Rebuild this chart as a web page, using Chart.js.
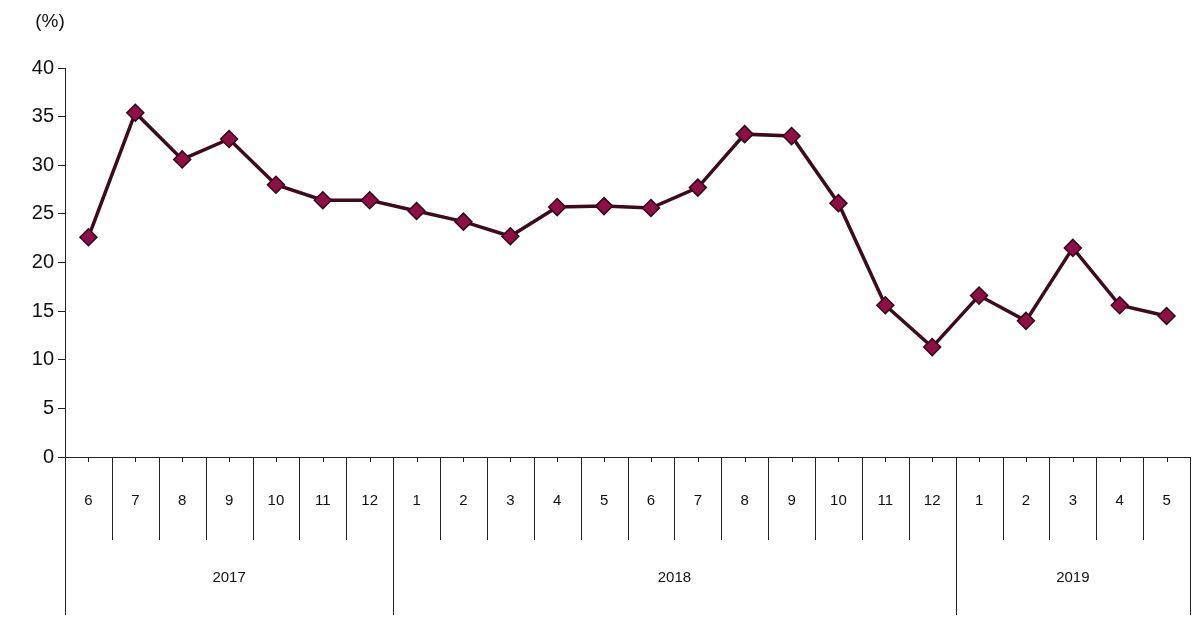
<!DOCTYPE html>
<html>
<head>
<meta charset="utf-8">
<script src="https://cdn.jsdelivr.net/npm/chart.js@4.4.1/dist/chart.umd.min.js"></script>
<style>
  html, body { margin: 0; padding: 0; background: #fff; }
  #wrap { width: 1200px; height: 626px; position: relative; }
</style>
</head>
<body>
<div id="wrap"><canvas id="chart"></canvas></div>
<script>
// months shown on the axis, grouped by year
const months = ['6', '7', '8', '9', '10', '11', '12',
  '1', '2', '3', '4', '5', '6', '7', '8', '9', '10', '11', '12',
  '1', '2', '3', '4', '5'];
const years = ['2017', '2018', '2019'];
const yearSpans = [7, 12, 5]; // number of months under each year
const rates = [22.6, 35.4, 30.6, 32.7, 28.0, 26.4, 26.4,
  25.3, 24.2, 22.7, 25.7, 25.8, 25.6, 27.7, 33.2, 33.0, 26.1, 15.6, 11.3,
  16.6, 14.0, 21.5, 15.6, 14.5];

const FONT = '"Liberation Sans", Arial, sans-serif';

// draws the boxed month/year axis under the plot and the (%) unit
const groupAxis = {
  id: 'groupAxis',
  afterDraw(chart) {
    const ctx = chart.ctx;
    const x = chart.scales.x;
    const area = chart.chartArea;
    const base = area.bottom;
    const n = months.length;
    const step = x.getPixelForValue(1) - x.getPixelForValue(0);
    ctx.save();
    ctx.strokeStyle = '#222';
    ctx.lineWidth = 1;

    // short ticks at each month
    for (let i = 0; i < n; i++) {
      const px = Math.round(x.getPixelForValue(i)) + 0.5;
      ctx.beginPath();
      ctx.moveTo(px, base);
      ctx.lineTo(px, base + 5);
      ctx.stroke();
    }

    // separators between months, longer at year boundaries
    const yearEdges = [0];
    yearSpans.reduce((acc, s) => { yearEdges.push(acc + s); return acc + s; }, 0);
    for (let i = 0; i <= n; i++) {
      const px = Math.round(x.getPixelForValue(i) - step / 2) + 0.5;
      const long = yearEdges.includes(i);
      ctx.beginPath();
      ctx.moveTo(px, base);
      ctx.lineTo(px, base + (long ? 158 : 83));
      ctx.stroke();
    }

    // year labels
    ctx.fillStyle = '#111';
    ctx.font = '15px ' + FONT;
    ctx.textAlign = 'center';
    ctx.textBaseline = 'middle';
    let start = 0;
    years.forEach((yr, k) => {
      const a = x.getPixelForValue(start) - step / 2;
      const b = x.getPixelForValue(start + yearSpans[k] - 1) + step / 2;
      ctx.fillText(yr, (a + b) / 2, base + 121);
      start += yearSpans[k];
    });

    // unit label
    ctx.font = '19px ' + FONT;
    ctx.fillText('(%)', 50, 22);
    ctx.restore();
  }
};

new Chart(document.getElementById('chart'), {
  type: 'line',
  data: {
    labels: months,
    datasets: [{
      data: rates,
      borderColor: '#3e0a1e',
      borderWidth: 3.5,
      backgroundColor: '#8c0f45',
      pointStyle: 'rectRot',
      pointRadius: 8.5,
      pointBorderColor: '#330818',
      pointBorderWidth: 1.5,
      tension: 0,
      fill: false
    }]
  },
  options: {
    responsive: true,
    maintainAspectRatio: false,
    animation: false,
    layout: { padding: { top: 68, right: 8, left: 0, bottom: 0 } },
    plugins: {
      legend: { display: false },
      tooltip: { enabled: false }
    },
    scales: {
      x: {
        offset: true,
        grid: { display: false },
        border: { display: true, color: '#222', width: 1 },
        ticks: {
          color: '#111',
          font: { family: FONT, size: 15 },
          padding: 27,
          maxRotation: 0,
          autoSkip: false
        },
        afterFit: s => { s.height = 169; }
      },
      y: {
        min: 0,
        max: 40,
        grid: { drawOnChartArea: false, tickLength: 7, color: '#222' },
        border: { display: true, color: '#222', width: 1 },
        ticks: {
          stepSize: 5,
          color: '#111',
          font: { family: FONT, size: 20 },
          padding: 4
        },
        afterFit: s => { s.width = 65; }
      }
    }
  },
  plugins: [groupAxis]
});
</script>
</body>
</html>
